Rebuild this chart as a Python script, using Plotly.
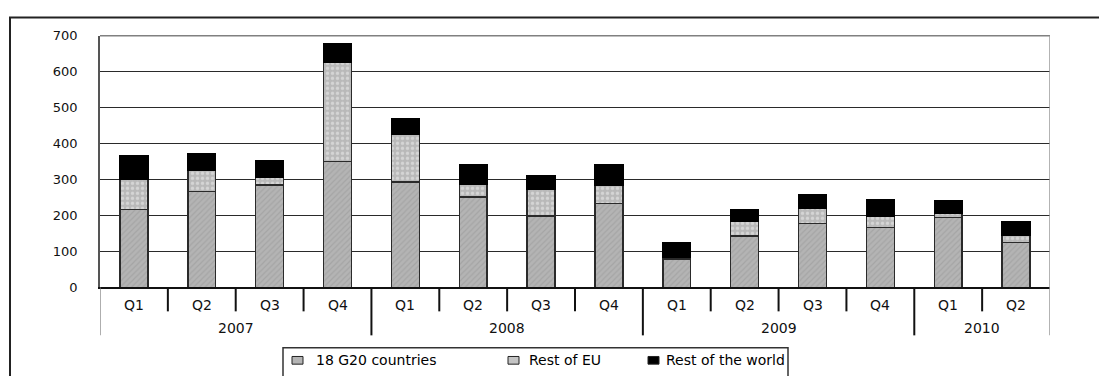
import plotly.graph_objects as go

years = ["2007", "2007", "2007", "2007", "2008", "2008", "2008", "2008",
         "2009", "2009", "2009", "2009", "2010", "2010"]
quarters = ["Q1", "Q2", "Q3", "Q4", "Q1", "Q2", "Q3", "Q4",
            "Q1", "Q2", "Q3", "Q4", "Q1", "Q2"]
g20 = [217, 267, 285, 350, 293, 251, 199, 234, 79, 143, 177, 167, 194, 125]
rest_eu = [84, 58, 21, 277, 133, 36, 73, 49, 6, 42, 44, 31, 13, 19]
rest_world = [65, 46, 47, 50, 42, 55, 39, 59, 40, 32, 36, 45, 35, 39]
y_ticks = [0, 100, 200, 300, 400, 500, 600, 700]
series_names = ["18 G20 countries", "Rest of EU", "Rest of the world"]
series_colors = ["#b4b4b4", "#c4c4c4", "#000000"]

W, H = 1099, 376
FONT = "DejaVu Sans"
pos = list(range(len(quarters)))

def px_y(py):
    return (H - py) / H

def px_x(px):
    return px / W

fig = go.Figure()
fig.add_trace(go.Bar(
    x=pos, y=g20, name=series_names[0], width=0.41,
    marker=dict(color=series_colors[0], line=dict(color="#2a2a2a", width=1.5),
                pattern=dict(shape="/", fgcolor="#959595", size=4, solidity=0.3)),
))
fig.add_trace(go.Bar(
    x=pos, y=rest_eu, name=series_names[1], width=0.41,
    marker=dict(color="#b9b9b9", line=dict(color="#2a2a2a", width=1.5),
                pattern=dict(shape=".", fgcolor="#f2f2f2", size=5, solidity=0.35)),
))
fig.add_trace(go.Bar(
    x=pos, y=rest_world, name=series_names[2], width=0.41,
    marker=dict(color=series_colors[2], line=dict(color="#000000", width=1.5)),
))

shapes = []
# outer frame
shapes.append(dict(type="rect", xref="paper", yref="paper",
                   x0=px_x(10), x1=1.2, y0=-0.2, y1=px_y(11),
                   line=dict(color="#222222", width=2), layer="below"))
# plot border top/right
shapes.append(dict(type="line", xref="x", yref="paper", x0=-0.5, x1=len(pos) - 0.5,
                   y0=px_y(30), y1=px_y(30), line=dict(color="#808080", width=1.5)))
shapes.append(dict(type="line", xref="x", yref="paper", x0=len(pos) - 0.5, x1=len(pos) - 0.5,
                   y0=px_y(30), y1=px_y(342), line=dict(color="#9a9a9a", width=1.5)))
# category dividers
for i in range(len(pos)):
    xb = i - 0.5
    if i == 0:
        shapes.append(dict(type="line", xref="x", yref="paper", x0=xb, x1=xb,
                           y0=px_y(292), y1=px_y(342), line=dict(color="#777777", width=1.2)))
        continue
    y_end = 342 if years[i] != years[i - 1] else 317
    shapes.append(dict(type="line", xref="x", yref="paper", x0=xb, x1=xb,
                       y0=px_y(292), y1=px_y(y_end), line=dict(color="#111111", width=2)))

annotations = []
for i, q in enumerate(quarters):
    annotations.append(dict(x=i, y=px_y(310), xref="x", yref="paper", text=q,
                            showarrow=False, yanchor="middle",
                            font=dict(family=FONT, size=14, color="#111111")))
uniq_years = []
for y in years:
    if y not in uniq_years:
        uniq_years.append(y)
for yr in uniq_years:
    idx = [i for i, v in enumerate(years) if v == yr]
    annotations.append(dict(x=(idx[0] + idx[-1]) / 2, y=px_y(334), xref="x", yref="paper",
                            text=yr, showarrow=False, yanchor="middle",
                            font=dict(family=FONT, size=14, color="#111111")))

# custom legend (box cut by the bottom edge, as in the reference)
shapes.append(dict(type="rect", xref="paper", yref="paper",
                   x0=px_x(283), x1=px_x(788), y0=-0.1, y1=px_y(355),
                   line=dict(color="#333333", width=1.5), fillcolor="white"))
leg_sym_x = [292, 508, 648]
leg_txt_x = [314, 527, 664]
for name, col, sx, tx in zip(series_names, series_colors, leg_sym_x, leg_txt_x):
    shapes.append(dict(type="rect", xref="paper", yref="paper",
                       x0=px_x(sx), x1=px_x(sx + 11), y0=px_y(372), y1=px_y(364),
                       line=dict(color="#222222", width=1), fillcolor=col))
    annotations.append(dict(x=px_x(tx), y=px_y(368), xref="paper", yref="paper",
                            text=name, showarrow=False, xanchor="left", yanchor="middle",
                            font=dict(family=FONT, size=14, color="#000000")))

fig.update_layout(
    width=W, height=H,
    margin=dict(l=0, r=0, t=0, b=0),
    paper_bgcolor="white", plot_bgcolor="white",
    barmode="stack",
    font=dict(family=FONT, size=12, color="#111111"),
    xaxis=dict(domain=[px_x(100), px_x(1050)], range=[-0.5, len(pos) - 0.5],
               showticklabels=False, showgrid=False, zeroline=False,
               showline=True, linecolor="#111111", linewidth=1.5, ticks=""),
    yaxis=dict(domain=[px_y(292), px_y(30)], range=[0, 700], tickvals=y_ticks,
               showgrid=True, gridcolor="#2a2a2a", gridwidth=1, zeroline=False,
               showline=True, linecolor="#555555", linewidth=1.5,
               ticks="", ticklabelstandoff=18,
               tickfont=dict(family=FONT, size=13, color="#111111")),
    shapes=shapes,
    annotations=annotations,
    showlegend=False,
)

fig.write_html("out.html")
